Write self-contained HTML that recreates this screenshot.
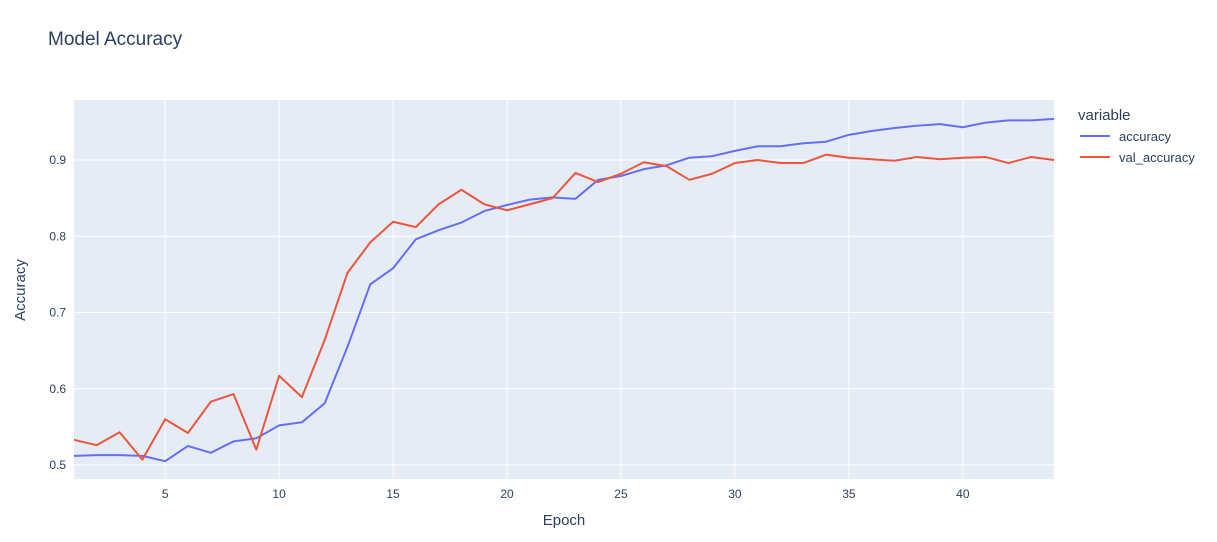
<!DOCTYPE html>
<html><head><meta charset="utf-8"><style>
body{margin:0;background:#fff;font-family:"Liberation Sans",Arial,sans-serif;}
svg text{font-family:"Liberation Sans",Arial,sans-serif;}
</style></head><body>
<svg id="chart" width="1217" height="537" xmlns="http://www.w3.org/2000/svg">
<rect width="1217" height="537" fill="#fff"/>
<text x="48" y="45" font-size="19" fill="#2a3f5f">Model Accuracy</text>
<rect x="74" y="100" width="980" height="379" fill="#e5ecf6"/>
<g id="grid"></g>
<g id="lines"></g>
<text x="564" y="525" font-size="15" fill="#2a3f5f" text-anchor="middle">Epoch</text>
<text transform="translate(25,290) rotate(-90)" font-size="15" fill="#2a3f5f" text-anchor="middle">Accuracy</text>
<text x="1078" y="120" font-size="15" fill="#2a3f5f">variable</text>
<g><line x1="1080" y1="136" x2="1110" y2="136" stroke="#636efa" stroke-width="2"/><text x="1119" y="141" font-size="13" fill="#2a3f5f">accuracy</text></g>
<g><line x1="1080" y1="157" x2="1110" y2="157" stroke="#ef553b" stroke-width="2"/><text x="1119" y="162" font-size="13" fill="#2a3f5f">val_accuracy</text></g>
</svg>
<script>
const epochs=[];for(let i=1;i<=44;i++)epochs.push(i);
const accuracy=[0.512,0.513,0.513,0.512,0.505,0.525,0.516,0.531,0.535,0.552,0.556,0.581,0.655,0.737,0.758,0.796,0.808,0.818,0.833,0.841,0.848,0.851,0.849,0.874,0.879,0.888,0.893,0.903,0.905,0.912,0.918,0.918,0.922,0.924,0.933,0.938,0.942,0.945,0.947,0.943,0.949,0.952,0.952,0.954];
const valAccuracy=[0.533,0.526,0.543,0.507,0.560,0.542,0.583,0.593,0.520,0.617,0.589,0.664,0.752,0.792,0.819,0.812,0.842,0.861,0.842,0.834,0.842,0.850,0.883,0.871,0.882,0.897,0.892,0.874,0.882,0.896,0.900,0.896,0.896,0.907,0.903,0.901,0.899,0.904,0.901,0.903,0.904,0.896,0.904,0.900];
const xTicks=[5,10,15,20,25,30,35,40];
const yTicks=[0.5,0.6,0.7,0.8,0.9];
const NS="http://www.w3.org/2000/svg";
const X=v=>74+(v-1)*(980/43);
const Y=v=>465-(v-0.5)*762.5;
const grid=document.getElementById('grid'),lines=document.getElementById('lines'),svg=document.getElementById('chart');
xTicks.forEach(t=>{
 const l=document.createElementNS(NS,'line');
 l.setAttribute('x1',X(t));l.setAttribute('x2',X(t));l.setAttribute('y1',100);l.setAttribute('y2',479);
 l.setAttribute('stroke','#fff');l.setAttribute('stroke-width','1');
 
 
 grid.appendChild(l);
 const tx=document.createElementNS(NS,'text');
 tx.setAttribute('x',X(t));tx.setAttribute('y',498);tx.setAttribute('font-size','12');tx.setAttribute('fill','#2a3f5f');tx.setAttribute('text-anchor','middle');
 tx.textContent=t;
 
 
 svg.appendChild(tx);
});
yTicks.forEach(t=>{
 const l=document.createElementNS(NS,'line');
 l.setAttribute('x1',74);l.setAttribute('x2',1054);l.setAttribute('y1',Y(t));l.setAttribute('y2',Y(t));
 l.setAttribute('stroke','#fff');l.setAttribute('stroke-width','1');
 
 
 grid.appendChild(l);
 const tx=document.createElementNS(NS,'text');
 tx.setAttribute('x',66);tx.setAttribute('y',Y(t)+4);tx.setAttribute('font-size','12');tx.setAttribute('fill','#2a3f5f');tx.setAttribute('text-anchor','end');
 tx.textContent=t.toFixed(1);
 
 
 svg.appendChild(tx);
});
function drawLine(vals,color,name){
 const p=document.createElementNS(NS,'polyline');
 p.setAttribute('points',vals.map((v,i)=>X(epochs[i])+','+Y(v)).join(' '));
 p.setAttribute('fill','none');p.setAttribute('stroke',color);p.setAttribute('stroke-width','2');p.setAttribute('stroke-linejoin','round');
 
 
 lines.appendChild(p);
}
drawLine(accuracy,'#636efa','accuracy-line');
drawLine(valAccuracy,'#ef553b','val-accuracy-line');
</script>
</body></html>
